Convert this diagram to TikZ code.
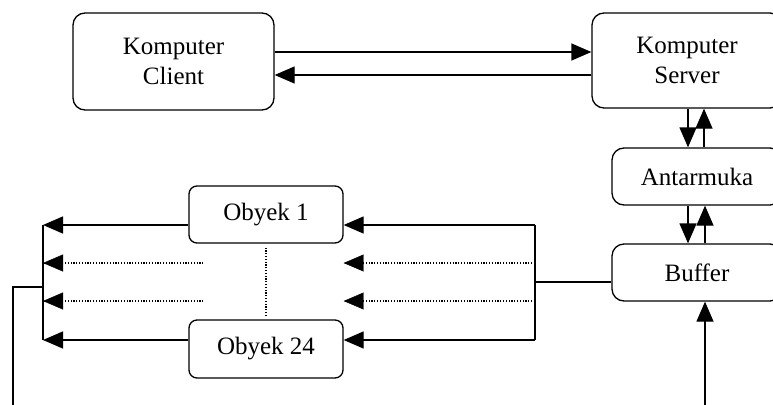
\documentclass[tikz,border=0pt]{standalone}
\usepackage{fontspec}
\setmainfont{Liberation Serif}
\usetikzlibrary{arrows.meta}

\tikzset{
  blok/.style={draw, line width=1.3pt, rounded corners=12pt, align=center,
    inner sep=0pt, font=\fontsize{25}{30}\selectfont},
  garis/.style={line width=1.3pt},
  ujung/.style={-{Triangle[length=20pt,width=17pt]}},
  panah/.style={garis, ujung},
  titik/.style={line width=1.2pt, dash pattern=on 1.2pt off 1.6pt},
}

\begin{document}
\begin{tikzpicture}[x=1pt,y=-1pt]
\clip (0,0) rectangle (773,404);

% kotak-kotak
\node[blok, minimum width=201, minimum height=97] (client) at (173.5,61.5) {Komputer\\Client};
\node[blok, minimum width=190, minimum height=95] (server) at (687,60.5) {Komputer\\Server};
\node[blok, minimum width=170, minimum height=57] (antar) at (697,176.5) {Antarmuka};
\node[blok, minimum width=170, minimum height=57] (buffer) at (697,272.5) {Buffer};
\node[blok, rounded corners=8pt, minimum width=154, minimum height=57] (obj1) at (266,214.5) {Obyek 1};
\node[blok, rounded corners=8pt, minimum width=154, minimum height=58] (obj24) at (266,349) {Obyek 24};

% titik bantu
\coordinate (atas) at (0,52);
\coordinate (bawah) at (0,75);
\coordinate (bus1) at (535,225);
\coordinate (bus2) at (535,263);
\coordinate (bus3) at (535,301);
\coordinate (bus4) at (535,340);
\coordinate (rel1) at (43,225);
\coordinate (rel2) at (43,263);
\coordinate (rel3) at (43,301);
\coordinate (rel4) at (43,340);
\coordinate (balik) at (43,287);
\coordinate (cabang) at (535,282);
\coordinate (masuk) at (705,410);

% client <-> server
\draw[panah] (client.east |- atas) -- (server.west |- atas);
\draw[panah] (server.west |- bawah) -- (client.east |- bawah);

% server <-> antarmuka <-> buffer
\draw[panah] ([xshift=-9pt]antar.north |- server.south) -- ([xshift=-9pt]antar.north);
\draw[panah] ([xshift=7pt]antar.north) -- ([xshift=7pt]antar.north |- server.south);
\draw[panah] ([xshift=-9pt]buffer.north |- antar.south) -- ([xshift=-9pt]buffer.north);
\draw[panah] ([xshift=8pt]buffer.north) -- ([xshift=8pt]buffer.north |- antar.south);
\draw[panah] (masuk) -- (masuk |- buffer.south);

% buffer ke objek
\draw[garis] (buffer.west |- cabang) -- (cabang);
\draw[garis] (bus1) -- (bus4);
\draw[panah] (bus1) -- (bus1 -| obj1.east);
\draw[panah] (bus4) -- (bus4 -| obj24.east);
\draw[titik] (bus2) -- ([xshift=10pt]bus2 -| obj1.east);
\draw[titik] (bus3) -- ([xshift=10pt]bus3 -| obj24.east);
\draw[ujung] ([xshift=1pt]bus2 -| obj1.east) -- (bus2 -| obj1.east);
\draw[ujung] ([xshift=1pt]bus3 -| obj24.east) -- (bus3 -| obj24.east);

\draw[titik, shorten <=4pt, shorten >=3pt] (obj1.south) -- (obj24.north);

% objek ke kiri
\draw[garis] (rel1) -- (rel4);
\draw[panah] (obj1.west |- rel1) -- (rel1);
\draw[panah] (obj24.west |- rel4) -- (rel4);
\draw[titik] ([xshift=15pt]obj1.west |- rel2) -- ([xshift=10pt]rel2);
\draw[titik] ([xshift=15pt]obj24.west |- rel3) -- ([xshift=10pt]rel3);
\draw[ujung] ([xshift=1pt]rel2) -- (rel2);
\draw[ujung] ([xshift=1pt]rel3) -- (rel3);

% umpan balik
\draw[garis] (balik) -| (13,410);
\end{tikzpicture}
\end{document}
